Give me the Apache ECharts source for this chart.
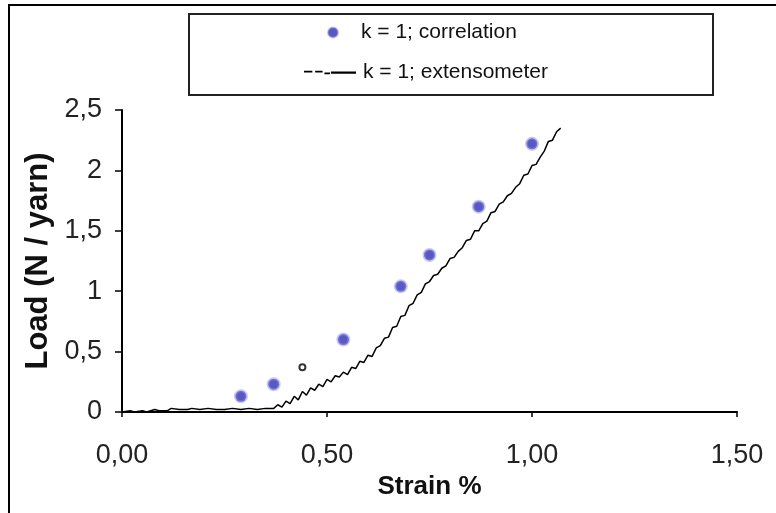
<!DOCTYPE html>
<html>
<head>
<meta charset="utf-8">
<script src="https://cdn.jsdelivr.net/npm/echarts@6/dist/echarts.min.js"></script>
<style>
html,body{margin:0;padding:0;background:#fff;}
#chart{width:776px;height:513px;}
</style>
</head>
<body>
<div id="chart"></div>
<script>
// ---- data ----
var seriesNames = ['k = 1; correlation', 'k = 1; extensometer'];
var correlation = [
  [0.29, 0.13], [0.37, 0.23], [0.54, 0.60], [0.68, 1.04],
  [0.75, 1.30], [0.87, 1.70], [1.00, 2.22]
];
var extensometer = [
  [0.00, 0.00], [0.02, 0.01], [0.03, 0.00], [0.05, 0.01], [0.06, 0.00], [0.08, 0.02],
  [0.09, 0.01], [0.11, 0.01], [0.12, 0.03], [0.14, 0.02], [0.16, 0.02], [0.17, 0.03],
  [0.19, 0.02], [0.21, 0.03], [0.23, 0.02], [0.25, 0.02], [0.27, 0.03], [0.29, 0.02],
  [0.31, 0.03], [0.33, 0.02], [0.35, 0.03], [0.37, 0.03], [0.38, 0.06], [0.39, 0.04],
  [0.40, 0.09], [0.41, 0.07], [0.42, 0.13], [0.43, 0.10], [0.44, 0.17], [0.45, 0.14],
  [0.46, 0.20], [0.47, 0.18], [0.48, 0.23], [0.49, 0.21], [0.50, 0.27], [0.51, 0.25],
  [0.52, 0.30], [0.53, 0.29], [0.54, 0.33], [0.55, 0.31], [0.56, 0.37], [0.57, 0.36],
  [0.58, 0.42], [0.59, 0.41], [0.60, 0.47], [0.61, 0.46], [0.62, 0.53], [0.63, 0.55],
  [0.64, 0.61], [0.65, 0.62], [0.66, 0.70], [0.67, 0.71], [0.68, 0.79], [0.69, 0.80],
  [0.70, 0.88], [0.71, 0.90], [0.72, 0.97], [0.73, 0.99], [0.74, 1.06], [0.75, 1.08],
  [0.76, 1.13], [0.77, 1.14], [0.78, 1.19], [0.79, 1.21], [0.80, 1.27], [0.81, 1.28],
  [0.82, 1.33], [0.83, 1.36], [0.84, 1.42], [0.85, 1.43], [0.86, 1.50], [0.87, 1.50],
  [0.88, 1.56], [0.89, 1.58], [0.90, 1.65], [0.91, 1.66], [0.92, 1.72], [0.93, 1.74],
  [0.94, 1.79], [0.95, 1.81], [0.96, 1.86], [0.97, 1.89], [0.98, 1.96], [0.99, 1.97],
  [1.00, 2.04], [1.01, 2.05], [1.02, 2.11], [1.03, 2.16], [1.04, 2.24], [1.05, 2.25],
  [1.06, 2.32], [1.07, 2.35]
];
var outlier = [[0.44, 0.37]];
var xTicks = ['0,00', '0,50', '1,00', '1,50'];
var yTicks = ['0', '0,5', '1', '1,5', '2', '2,5'];

var FONT = '"Liberation Sans", Arial, sans-serif';
var LINE_ICON = 'path://M0,5h9v2h-9z M12,5h8v2h-8z M22,7h6v2h-6z M29,6h27v2.4h-27z';
var chart = echarts.init(document.getElementById('chart'));
chart.setOption({
  backgroundColor: '#fff',
  animation: false,
  grid: { left: 122, right: 39, top: 110, bottom: 101, containLabel: false },
  graphic: [
    { type: 'line', shape: { x1: 8, y1: 5, x2: 776, y2: 5 }, style: { stroke: '#000', lineWidth: 2 } },
    { type: 'line', shape: { x1: 9, y1: 5, x2: 9, y2: 513 }, style: { stroke: '#000', lineWidth: 2 } },
    { type: 'rect', shape: { x: 189, y: 14, width: 524, height: 81 }, style: { fill: 'none', stroke: '#222', lineWidth: 2 } }
  ],
  legend: [
    {
      data: [{ name: seriesNames[0], icon: 'circle' }], left: 327, top: 22, padding: 0,
      itemWidth: 10, itemHeight: 10,
      textStyle: { fontFamily: FONT, fontSize: 21, color: '#111', padding: [0, 0, 0, 18] }
    },
    {
      data: [{ name: seriesNames[1], icon: LINE_ICON }], left: 304, top: 62, padding: 0,
      itemWidth: 52, itemHeight: 8,
      textStyle: { fontFamily: FONT, fontSize: 21, color: '#111', padding: [0, 0, 0, 2] }
    }
  ],
  xAxis: {
    type: 'value', min: 0, max: 1.5, interval: 0.5,
    axisLine: { lineStyle: { color: '#000', width: 2 } },
    axisTick: { show: true, inside: false, length: 5, lineStyle: { color: '#000', width: 1.5 } },
    axisLabel: {
      fontFamily: FONT, fontSize: 27, color: '#222', margin: 30,
      formatter: function (v) { return xTicks[Math.round(v / 0.5)]; }
    },
    splitLine: { show: false },
    name: 'Strain %', nameLocation: 'middle', nameGap: 58,
    nameTextStyle: { fontFamily: FONT, fontSize: 26, fontWeight: 'bold', color: '#111' }
  },
  yAxis: {
    type: 'value', min: 0, max: 2.5, interval: 0.5,
    axisLine: { show: true, lineStyle: { color: '#000', width: 2 } },
    axisTick: { show: true, inside: false, length: 7, lineStyle: { color: '#000', width: 1.5 } },
    axisLabel: {
      fontFamily: FONT, fontSize: 27, color: '#222', margin: 20,
      formatter: function (v) { return yTicks[Math.round(v / 0.5)]; }
    },
    splitLine: { show: false },
    name: 'Load (N / yarn)', nameLocation: 'middle', nameGap: 66, nameRotate: 90,
    nameTextStyle: { fontFamily: FONT, fontSize: 31, fontWeight: 'bold', color: '#111' }
  },
  series: [
    {
      name: seriesNames[0], type: 'scatter', data: correlation,
      symbol: 'circle', symbolSize: 11,
      itemStyle: { color: '#2f2fb4', borderColor: 'rgba(140,140,230,0.6)', borderWidth: 3 },
      z: 3
    },
    {
      name: seriesNames[1], type: 'line', data: extensometer,
      showSymbol: false, symbol: 'none',
      lineStyle: { color: '#000', width: 1.5 },
      itemStyle: { color: '#000' },
      z: 2
    },
    {
      name: 'outlier', type: 'scatter', data: outlier,
      symbol: 'circle', symbolSize: 6,
      itemStyle: { color: '#fff', borderColor: '#000', borderWidth: 2 },
      z: 2
    }
  ]
});
</script>
</body>
</html>
